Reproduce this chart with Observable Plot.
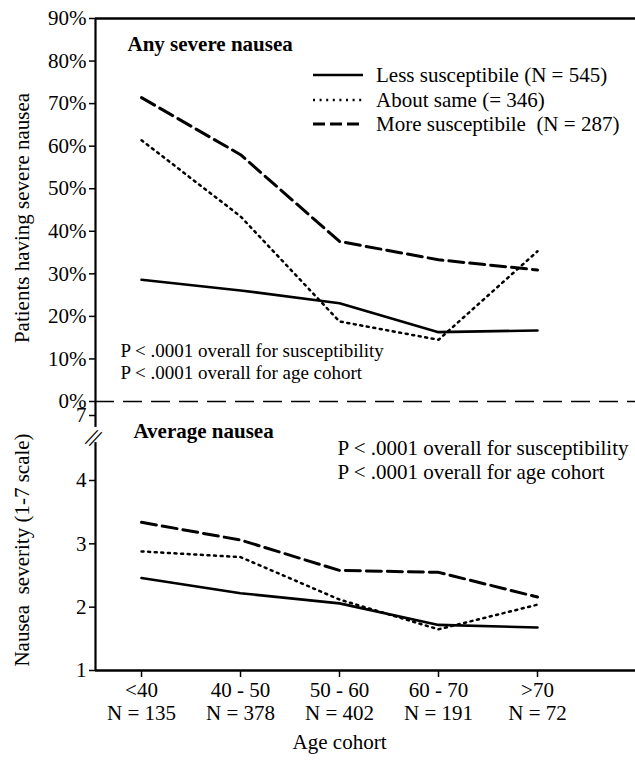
<!DOCTYPE html>
<html>
<head>
<meta charset="utf-8">
<script src="https://cdn.jsdelivr.net/npm/d3@7"></script>
<script src="https://cdn.jsdelivr.net/npm/@observablehq/plot@0.6"></script>
<style>
  html, body { margin: 0; padding: 0; background: #fff; }
  #chart { position: relative; width: 635px; height: 764px; font-family: "Liberation Serif", "Times New Roman", serif; color: #000; overflow: hidden; }
  #chart > svg { position: absolute; left: 0; overflow: visible; }
  .legend { position: absolute; left: 313px; top: 63px; font-size: 21px; line-height: 24.5px; }
  .legend .row { display: flex; align-items: center; height: 24.5px; white-space: pre; }
  .legend svg { margin-right: 13px; }
</style>
</head>
<body>
<div id="chart"></div>
<script>
// ---- data ----
const cohorts = ["<40", "40 - 50", "50 - 60", "60 - 70", ">70"];
const cohortN = ["N = 135", "N = 378", "N = 402", "N = 191", "N = 72"];
const seriesNames = ["Less susceptibile (N = 545)", "About same (= 346)", "More susceptibile  (N = 287)"];

// Any severe nausea (% of patients)
const severeLess = [28.6, 26.1, 23.1, 16.3, 16.7];
const severeSame = [61.4, 43.5, 18.8, 14.5, 35.3];
const severeMore = [71.4, 58.0, 37.6, 33.3, 30.9];

// Average nausea severity (1-7 scale)
const avgLess = [2.46, 2.22, 2.06, 1.72, 1.68];
const avgSame = [2.88, 2.79, 2.12, 1.65, 2.04];
const avgMore = [3.34, 3.06, 2.58, 2.55, 2.16];

const topTicks = [0, 10, 20, 30, 40, 50, 60, 70, 80, 90];
const bottomTicks = [1, 2, 3, 4, 7];

const topTitle = "Any severe nausea";
const bottomTitle = "Average nausea";
const pLines = ["P < .0001 overall for susceptibility", "P < .0001 overall for age cohort"];
const yTitleTop = "Patients having severe nausea";
const yTitleBottom = "Nausea  severity (1-7 scale)";
const xTitle = "Age cohort";

// ---- helpers ----
const rows = (values, name) => values.map((v, i) => ({idx: i + 1, cohort: cohorts[i], value: v, series: name}));
const FONT = "'Liberation Serif', 'Times New Roman', serif";
const solid = {strokeWidth: 2.6};
const dotted = {strokeWidth: 2.5, strokeDasharray: "2,4.6"};
const dashed = {strokeWidth: 3, strokeDasharray: "15,6"};

const W = 635, ML = 95;
const xDomain = [0.535, 5.99];

// ---- top panel ----
const topPanel = Plot.plot({
  width: W, height: 402,
  marginTop: 18, marginBottom: 1, marginLeft: ML, marginRight: 0,
  x: {domain: xDomain, axis: null},
  y: {domain: [0, 90], axis: null},
  style: {fontFamily: FONT, fontSize: "21px", background: "white", color: "black", overflow: "visible"},
  marks: [
    Plot.axisY({ticks: topTicks, tickFormat: d => d + "%", label: null, fontSize: 21, tickSize: 6, tickPadding: 3, strokeWidth: 1.5}),
    Plot.ruleY([0], {stroke: "black", strokeWidth: 1.6, strokeDasharray: "19,9"}),
    Plot.ruleX([xDomain[0]], {stroke: "black", strokeWidth: 2.2}),
    Plot.ruleY([90], {stroke: "black", strokeWidth: 2.4}),
    Plot.line(rows(severeLess, seriesNames[0]), {x: "idx", y: "value", stroke: "black", ...solid}),
    Plot.line(rows(severeSame, seriesNames[1]), {x: "idx", y: "value", stroke: "black", ...dotted}),
    Plot.line(rows(severeMore, seriesNames[2]), {x: "idx", y: "value", stroke: "black", ...dashed}),
    Plot.text([topTitle], {frameAnchor: "top-left", dx: 32, dy: 26, fontSize: 21, fontWeight: "bold", textAnchor: "start", lineAnchor: "middle"}),
    Plot.text([pLines[0]], {frameAnchor: "bottom-left", dx: 25, dy: -51, fontSize: 19, textAnchor: "start", lineAnchor: "middle"}),
    Plot.text([pLines[1]], {frameAnchor: "bottom-left", dx: 25, dy: -29, fontSize: 19, textAnchor: "start", lineAnchor: "middle"}),
    Plot.text([yTitleTop], {frameAnchor: "left", dx: -73, dy: 8, rotate: -90, fontSize: 21, textAnchor: "middle", lineAnchor: "middle"})
  ]
});
topPanel.style.top = "0px";

// ---- bottom panel (broken axis between 4 and 7) ----
const bottomPanel = Plot.plot({
  width: W, height: 363,
  marginTop: 0, marginBottom: 94, marginLeft: ML, marginRight: 0,
  x: {domain: xDomain, axis: null},
  y: {type: "linear", domain: [1, 4, 7], range: [269, 79, 14], axis: null},
  style: {fontFamily: FONT, fontSize: "21px", background: "transparent", color: "black", overflow: "visible"},
  marks: [
    Plot.axisY({ticks: bottomTicks, tickFormat: d => String(d), label: null, fontSize: 21, tickSize: 6, tickPadding: 3, strokeWidth: 1.5}),
    Plot.axisX({ticks: [1, 2, 3, 4, 5], tickFormat: i => cohorts[i - 1] + "\n" + cohortN[i - 1], label: null, fontSize: 21, tickSize: 7, tickPadding: 3, lineHeight: 1.1, strokeWidth: 1.5}),
    Plot.ruleX([xDomain[0]], {stroke: "black", strokeWidth: 2.2}),
    Plot.ruleX([xDomain[0]], {y1: 5.75, y2: 6.45, stroke: "white", strokeWidth: 6}),
    Plot.text(["/"], {x: xDomain[0], y: 6.1, dx: -4, dy: 2, fontSize: 26, rotate: 24}),
    Plot.text(["/"], {x: xDomain[0], y: 6.1, dx: 0, dy: 4, fontSize: 26, rotate: 24}),
    Plot.ruleY([1], {stroke: "black", strokeWidth: 2.4}),
    Plot.line(rows(avgLess, seriesNames[0]), {x: "idx", y: "value", stroke: "black", ...solid}),
    Plot.line(rows(avgSame, seriesNames[1]), {x: "idx", y: "value", stroke: "black", ...dotted}),
    Plot.line(rows(avgMore, seriesNames[2]), {x: "idx", y: "value", stroke: "black", ...dashed}),
    Plot.text([bottomTitle], {frameAnchor: "top-left", dx: 38, dy: 30, fontSize: 21, fontWeight: "bold", textAnchor: "start", lineAnchor: "middle"}),
    Plot.text([pLines[0]], {frameAnchor: "top-left", dx: 242, dy: 47, fontSize: 21, textAnchor: "start", lineAnchor: "middle"}),
    Plot.text([pLines[1]], {frameAnchor: "top-left", dx: 242, dy: 71, fontSize: 21, textAnchor: "start", lineAnchor: "middle"}),
    Plot.text([yTitleBottom], {frameAnchor: "left", dx: -73, dy: 14, rotate: -90, fontSize: 21, textAnchor: "middle", lineAnchor: "middle"}),
    Plot.text([xTitle], {x: 3, frameAnchor: "bottom", dy: 72, fontSize: 21, lineAnchor: "middle"})
  ]
});
bottomPanel.style.top = "401px";

const chart = document.getElementById("chart");
chart.appendChild(topPanel);
chart.appendChild(bottomPanel);

// ---- legend (inside the top panel) ----
const legend = document.createElement("div");
legend.className = "legend";
const swatchStyles = [solid, dotted, dashed];
seriesNames.forEach((name, i) => {
  const row = document.createElement("div");
  row.className = "row";
  const s = swatchStyles[i];
  const dash = s.strokeDasharray ? `stroke-dasharray="${i === 2 ? "12,5" : s.strokeDasharray}"` : "";
  row.innerHTML = `<svg width="50" height="10"><line x1="0" x2="50" y1="5" y2="5" stroke="black" stroke-width="${s.strokeWidth}" ${dash}/></svg><span>${name}</span>`;
  legend.appendChild(row);
});
chart.appendChild(legend);
</script>
</body>
</html>
